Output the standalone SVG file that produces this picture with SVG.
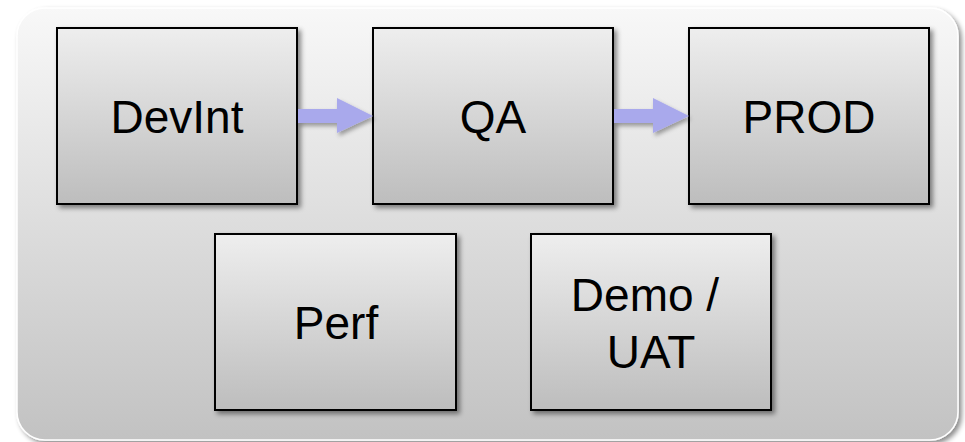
<svg xmlns="http://www.w3.org/2000/svg" width="965" height="442" viewBox="0 0 965 442">
<defs>
<linearGradient id="bg" x1="0" y1="0" x2="0" y2="1">
<stop offset="0" stop-color="#f8f8f8"/>
<stop offset="1" stop-color="#c2c2c2"/>
</linearGradient>
<linearGradient id="box" x1="0" y1="0" x2="0" y2="1">
<stop offset="0" stop-color="#eeeeee"/>
<stop offset="1" stop-color="#bdbdbd"/>
</linearGradient>
<filter id="sh" x="-10%" y="-10%" width="120%" height="120%">
<feDropShadow dx="3" dy="3" stdDeviation="2.5" flood-color="#000" flood-opacity="0.45"/>
</filter>
<filter id="sh2" x="-10%" y="-10%" width="120%" height="130%">
<feDropShadow dx="2" dy="3" stdDeviation="2" flood-color="#000" flood-opacity="0.35"/>
</filter>
</defs>
<style>
.node rect{fill:url(#box);stroke:#000;stroke-width:2;filter:url(#sh)}
.node text{font-family:"Liberation Sans",Arial,sans-serif;font-size:46px;fill:#000;text-anchor:middle}
.arrow{fill:#a9a9ec;filter:url(#sh2)}
</style>
<rect x="17" y="8" width="941" height="432" rx="28" fill="url(#bg)" stroke="#ffffff" stroke-width="1.5" filter="url(#sh)"/>
<g id="devint" class="node"><rect x="57" y="28" width="240" height="176"/><text x="177" y="133">DevInt</text></g>
<g id="qa" class="node"><rect x="373" y="28" width="240" height="176"/><text x="493" y="133">QA</text></g>
<g id="prod" class="node"><rect x="689" y="28" width="240" height="176"/><text x="809" y="133">PROD</text></g>
<g id="perf" class="node"><rect x="215" y="234" width="241" height="176"/><text x="336" y="339">Perf</text></g>
<g id="demo" class="node"><rect x="531" y="234" width="240" height="176"/><text x="645" y="311">Demo /</text><text x="651" y="368">UAT</text></g>
<g id="connectors">
<path class="arrow" d="M298,109 H337 V98 L373,116 L337,133 V123 H298 Z"/>
<path class="arrow" d="M614,109 H653 V98 L689,116 L653,133 V123 H614 Z"/>
</g>
</svg>
